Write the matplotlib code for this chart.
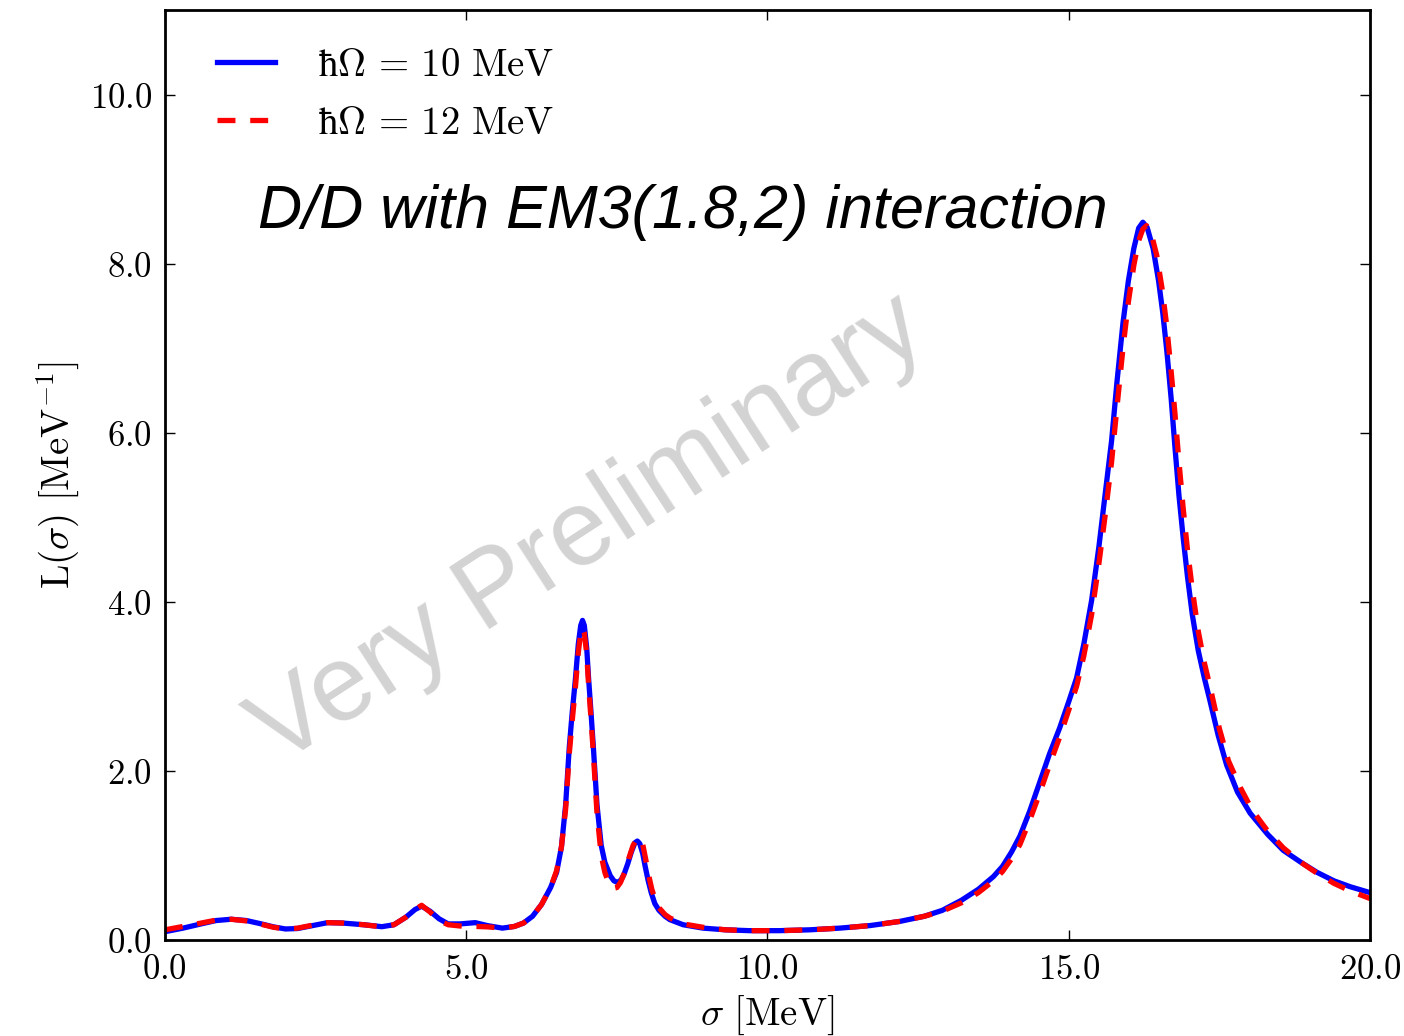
import numpy as np
import matplotlib
matplotlib.use("Agg")
import matplotlib.pyplot as plt
from matplotlib.ticker import FormatStrFormatter

plt.rcParams['mathtext.fontset'] = 'cm'

# hbar*Omega = 10 MeV
sig_10 = [0.0, 0.3, 0.6, 0.85, 1.1, 1.35, 1.6, 1.8, 2.0, 2.2, 2.45, 2.7, 2.95, 3.3,
          3.6, 3.8, 4.0, 4.15, 4.26, 4.4, 4.55, 4.7, 4.9, 5.15, 5.35, 5.6, 5.8, 5.95,
          6.1, 6.25, 6.4,
          6.5, 6.58, 6.65, 6.71, 6.76, 6.81, 6.86, 6.9, 6.93, 6.96, 7.0, 7.03, 7.07,
          7.11, 7.17, 7.24, 7.3, 7.39, 7.45, 7.51, 7.57, 7.62, 7.68, 7.74, 7.8, 7.84,
          7.88, 7.93, 7.97, 8.02, 8.07, 8.13, 8.2, 8.3, 8.38, 8.6, 8.93,
          9.3, 9.7, 10.2, 10.7, 11.2, 11.7, 12.2, 12.6, 12.9,
          13.22, 13.5, 13.75, 13.9, 14.05, 14.19, 14.35, 14.52, 14.68, 14.85, 15.0,
          15.13, 15.25, 15.38, 15.5, 15.6, 15.71, 15.8, 15.9, 15.99, 16.08, 16.16,
          16.23, 16.3, 16.4, 16.49, 16.56, 16.63, 16.7, 16.76, 16.83, 16.9, 16.97,
          17.05, 17.15, 17.25, 17.34, 17.48, 17.62, 17.8, 18.01, 18.3, 18.56, 18.85,
          19.12, 19.4, 19.67, 20.0]
L_10 = [0.098, 0.14, 0.19, 0.23, 0.245, 0.23, 0.19, 0.155, 0.13, 0.135, 0.17, 0.205,
        0.2, 0.18, 0.157, 0.18, 0.27, 0.36, 0.40, 0.34, 0.25, 0.19, 0.19, 0.205, 0.17,
        0.14, 0.16, 0.2, 0.28, 0.42, 0.62,
        0.8, 1.1, 1.6, 2.28, 2.7, 3.07, 3.5, 3.72, 3.78, 3.72, 3.45, 3.1, 2.7,
        2.28, 1.6, 1.12, 0.92, 0.76, 0.7, 0.68, 0.71, 0.78, 0.9, 1.04, 1.15, 1.17,
        1.14, 1.02, 0.87, 0.7, 0.56, 0.43, 0.35, 0.28, 0.24, 0.18, 0.14,
        0.12, 0.11, 0.11, 0.12, 0.14, 0.17, 0.22, 0.28, 0.35,
        0.47, 0.6, 0.75, 0.87, 1.04, 1.23, 1.52, 1.87, 2.2, 2.51, 2.82,
        3.1, 3.5, 4.02, 4.65, 5.25, 5.9, 6.6, 7.3, 7.8, 8.18, 8.42,
        8.49, 8.43, 8.18, 7.8, 7.42, 6.95, 6.4, 5.85, 5.25, 4.75, 4.3,
        3.85, 3.42, 3.1, 2.84, 2.42, 2.07, 1.75, 1.50, 1.25, 1.06, 0.92,
        0.8, 0.7, 0.63, 0.56]

# hbar*Omega = 12 MeV
sig_12 = [0.0, 0.3, 0.6, 0.85, 1.1, 1.35, 1.6, 1.8, 2.0, 2.2, 2.45, 2.7, 2.95, 3.3,
          3.6, 3.8, 4.0, 4.15, 4.26, 4.4, 4.55, 4.7, 4.9, 5.15, 5.35, 5.6, 5.8, 5.95,
          6.1, 6.25, 6.4,
          6.5, 6.58, 6.65, 6.71, 6.76, 6.81, 6.86, 6.9, 6.93, 6.96, 7.0, 7.03, 7.07,
          7.11, 7.17, 7.24, 7.3, 7.37, 7.44, 7.5, 7.56, 7.63, 7.7, 7.77, 7.83, 7.88,
          7.93, 7.98, 8.03, 8.08, 8.14, 8.2, 8.3, 8.38, 8.6, 8.93,
          9.3, 9.7, 10.2, 10.7, 11.2, 11.7, 12.2, 12.6, 12.9,
          13.22, 13.5, 13.75, 13.9, 14.05, 14.19, 14.35, 14.52, 14.68, 14.85, 15.0,
          15.13, 15.25, 15.38, 15.5, 15.6, 15.71, 15.8, 15.9, 15.99, 16.08, 16.16,
          16.23, 16.29, 16.36, 16.46, 16.55, 16.62, 16.69, 16.76, 16.83, 16.9, 16.97,
          17.05, 17.15, 17.25, 17.36, 17.5, 17.65, 17.85, 18.05, 18.3, 18.56, 18.85,
          19.12, 19.4, 19.67, 20.0]
L_12 = [0.12, 0.16, 0.2, 0.235, 0.245, 0.225, 0.185, 0.15, 0.13, 0.14, 0.175, 0.205,
        0.2, 0.18, 0.155, 0.18, 0.27, 0.36, 0.41, 0.33, 0.23, 0.18, 0.165, 0.16, 0.155,
        0.14, 0.16, 0.2, 0.28, 0.42, 0.62,
        0.82, 1.1, 1.55, 2.2, 2.6, 2.97, 3.4, 3.63, 3.69, 3.63, 3.38, 3.02, 2.62,
        2.2, 1.5, 1.0, 0.8, 0.66, 0.61, 0.62, 0.68, 0.8, 0.97, 1.12, 1.19, 1.21,
        1.13, 0.95, 0.76, 0.6, 0.47, 0.38, 0.3, 0.26, 0.19, 0.15,
        0.12, 0.11, 0.11, 0.12, 0.14, 0.17, 0.22, 0.28, 0.34,
        0.44, 0.56, 0.7, 0.81, 0.96, 1.13, 1.41, 1.74, 2.07, 2.4, 2.72,
        3.0, 3.36, 3.85, 4.45, 5.0, 5.65, 6.3, 7.0, 7.55, 7.98, 8.27,
        8.41, 8.45, 8.38, 8.1, 7.7, 7.3, 6.8, 6.25, 5.65, 5.1, 4.62,
        4.15, 3.65, 3.28, 2.95, 2.5, 2.12, 1.8, 1.53, 1.29, 1.09, 0.92,
        0.79, 0.67, 0.58, 0.49]

fig = plt.figure(figsize=(14.04, 10.36), dpi=100)
ax = fig.add_axes([0.1175, 0.0927, 0.8583, 0.8976])

# filigrane
ax.text(0.352, 0.44, 'Very Preliminary', transform=ax.transAxes, fontsize=77,
        color='#d3d3d3', rotation=33, ha='center', va='center',
        family='Liberation Sans', zorder=0)

ax.plot(sig_10, L_10, color='#0000ff', lw=3.8, label=r'$\mathrm{ħ}\Omega\,=\,10\ \mathrm{MeV}$')
ax.plot(sig_12, L_12, color='#ff0000', lw=3.8, dashes=(3.4, 2.8),
        label=r'$\mathrm{ħ}\Omega\,=\,12\ \mathrm{MeV}$')

ax.text(1.54, 8.42, 'D/D with EM3(1.8,2) interaction', fontsize=44, style='italic',
        family='Liberation Sans', ha='left', va='baseline')

ax.set_xlim(0, 20)
ax.set_ylim(0, 11)
ax.set_xticks([0, 5, 10, 15, 20])
ax.set_yticks([0, 2, 4, 6, 8, 10])
ax.xaxis.set_major_formatter(FormatStrFormatter(r'$%.1f$'))
ax.yaxis.set_major_formatter(FormatStrFormatter(r'$%.1f$'))
ax.tick_params(direction='in', top=True, right=True, length=7, width=1,
               labelsize=25, pad=9)
for s in ax.spines.values():
    s.set_linewidth(2)

ax.set_xlabel(r'$\sigma\ [\mathrm{MeV}]$', fontsize=28, labelpad=5)
ax.set_ylabel(r'$\mathrm{L}(\sigma)\ [\mathrm{MeV}^{-1}]$', fontsize=28, labelpad=6)

ax.legend(loc='upper left', frameon=False, fontsize=28, handlelength=1.5,
          handletextpad=1.1, labelspacing=0.5, borderaxespad=0.0,
          bbox_to_anchor=(0.03, 0.978))

fig.savefig('out.png', dpi=100)
